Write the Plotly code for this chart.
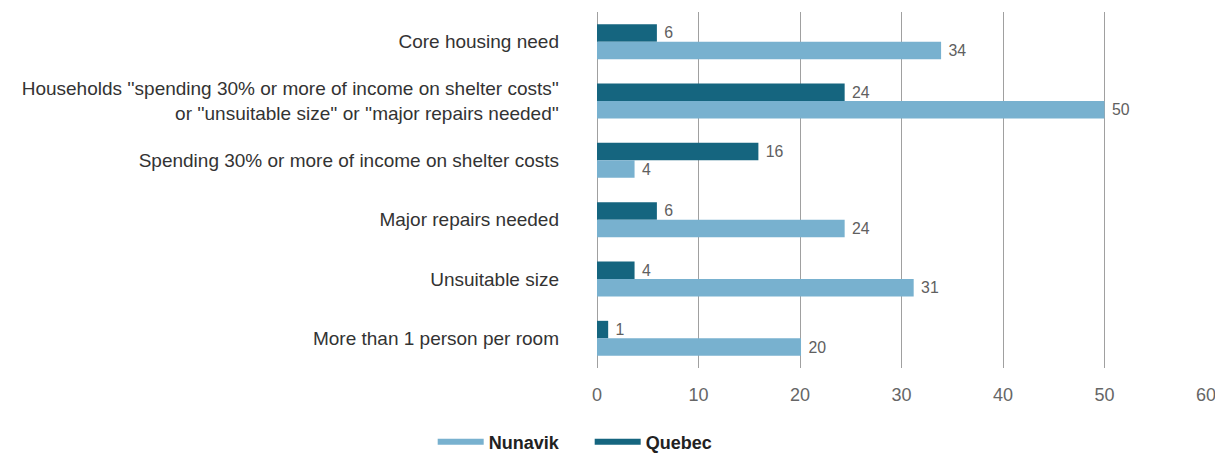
import plotly.graph_objects as go

categories = [
    "Core housing need",
    "Households ''spending 30% or more of income on shelter costs''<br>or ''unsuitable size'' or ''major repairs needed''",
    "Spending 30% or more of income on shelter costs",
    "Major repairs needed",
    "Unsuitable size",
    "More than 1 person per room",
]
quebec = [5.9, 24.4, 15.9, 5.9, 3.7, 1.1]
quebec_labels = ["6", "24", "16", "6", "4", "1"]
nunavik = [33.9, 50.0, 3.7, 24.4, 31.2, 20.1]
nunavik_labels = ["34", "50", "4", "24", "31", "20"]

C_NUN = "#78b1cf"
C_QUE = "#15657f"
FONT = "Liberation Sans, Arial, sans-serif"

fig = go.Figure()
fig.add_trace(go.Bar(
    y=categories, x=quebec, orientation="h", name="Quebec",
    marker=dict(color=C_QUE, line=dict(width=0)),
    text=[" " + t for t in quebec_labels], textposition="outside", cliponaxis=False,
    textfont=dict(color="#606060", size=19, family=FONT),
    showlegend=False,
))
fig.add_trace(go.Bar(
    y=categories, x=nunavik, orientation="h", name="Nunavik",
    marker=dict(color=C_NUN, line=dict(width=0)),
    text=[" " + t for t in nunavik_labels], textposition="outside", cliponaxis=False,
    textfont=dict(color="#606060", size=19, family=FONT),
    showlegend=False,
))
# legend entries drawn as lines
fig.add_trace(go.Scatter(x=[None], y=[None], mode="lines", name="Nunavik",
                         line=dict(color=C_NUN, width=6)))
fig.add_trace(go.Scatter(x=[None], y=[None], mode="lines", name="Quebec",
                         line=dict(color=C_QUE, width=6)))

fig.update_layout(
    width=1215, height=445,
    margin=dict(l=589, r=17, t=4, b=85, autoexpand=False),
    paper_bgcolor="white", plot_bgcolor="white",
    barmode="group", bargap=0.41, bargroupgap=0,
    font=dict(family=FONT, size=16, color="#333333"),
    legend=dict(orientation="h",
                x=-0.012, xanchor="center", y=-0.208, yanchor="middle",
                font=dict(size=18, color="#222222", family=FONT, weight="bold"),
                itemwidth=46, entrywidth=96, traceorder="normal"),
)
fig.update_xaxes(range=[0, 60], dtick=10, showgrid=True, gridcolor="#a0a0a0",
                 gridwidth=1, zeroline=True, zerolinecolor="#a0a0a0", zerolinewidth=1,
                 tickfont=dict(color="#666666", size=18), ticks="", ticklabelstandoff=14,
                 fixedrange=True, automargin=False)
fig.update_yaxes(autorange="reversed", showgrid=False, ticks="",
                 tickfont=dict(color="#333333", size=19), ticklabelstandoff=37,
                 showline=False, zeroline=False, automargin=False)

fig.write_html("out.html")
